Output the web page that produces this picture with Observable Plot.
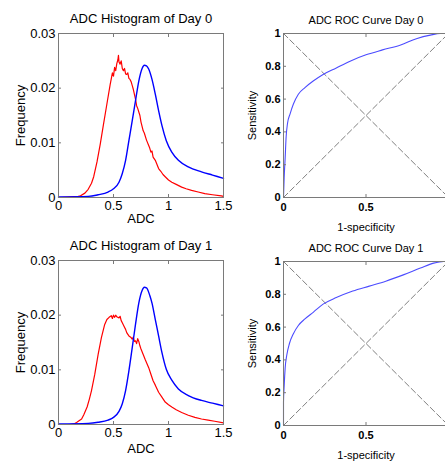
<!DOCTYPE html>
<html><head><meta charset="utf-8">
<script src="https://cdn.jsdelivr.net/npm/d3@7"></script>
<script src="https://cdn.jsdelivr.net/npm/@observablehq/plot@0.6"></script>
<style>
html,body{margin:0;padding:0;background:#fff;overflow:hidden;width:445px;height:461px;}
#wrap{position:relative;width:445px;height:461px;overflow:hidden;}
.panel{position:absolute;width:240px;}
.panel svg{max-width:none !important;display:block;}
</style></head><body><div id="wrap"></div>
<script>
// ---- text ----
const histTitles = ["ADC Histogram of Day 0", "ADC Histogram of Day 1"];
const rocTitles = ["ADC ROC Curve Day 0", "ADC ROC Curve Day 1"];
const histXLabel = "ADC";
const histYLabel = "Frequency";
const rocXLabel = "1-specificity";
const rocYLabel = "Sensitivity";

// ---- ticks ----
const histXTicks = [0, 0.5, 1, 1.5];
const histYTicks = [0, 0.01, 0.02, 0.03];
const rocXTicks = [0, 0.5, 1];
const rocXTickLabels = [0, 0.5];   // the label at 1 falls outside the picture
const rocYTicks = [0, 0.2, 0.4, 0.6, 0.8, 1];

// ---- histogram series [ADC, frequency] ----
const day0Red = [[0,0],[0.1,0.0001],[0.18,0.0002],[0.2,0.0003],[0.24,0.0008],[0.27,0.0015],[0.3,0.0026],[0.32,0.0038],[0.35,0.0065],[0.38,0.0098],[0.41,0.0135],[0.44,0.0171],[0.47,0.0207],[0.49,0.0228],[0.5,0.0222],[0.51,0.0238],[0.52,0.0232],[0.53,0.0245],[0.54,0.0252],[0.545,0.026],[0.55,0.0248],[0.56,0.0244],[0.57,0.025],[0.58,0.0236],[0.59,0.0232],[0.6,0.0236],[0.61,0.0226],[0.62,0.0225],[0.63,0.0228],[0.64,0.0218],[0.65,0.0216],[0.66,0.0212],[0.67,0.0205],[0.68,0.0198],[0.7,0.018],[0.71,0.0168],[0.72,0.0163],[0.74,0.015],[0.75,0.0138],[0.77,0.0122],[0.78,0.0118],[0.8,0.0105],[0.82,0.0095],[0.83,0.009],[0.84,0.0083],[0.85,0.0085],[0.86,0.0074],[0.88,0.0068],[0.91,0.0053],[0.93,0.0048],[0.95,0.0042],[0.97,0.0038],[1.0,0.0032],[1.03,0.0028],[1.07,0.0024],[1.12,0.0019],[1.16,0.0016],[1.21,0.0013],[1.27,0.001],[1.33,0.0007],[1.4,0.0005],[1.48,0.0003],[1.5,0.0002]];
const day0Blue = [[0,0.0001],[0.27,0.0002],[0.36,0.0005],[0.45,0.001],[0.5,0.0016],[0.55,0.0028],[0.58,0.0044],[0.61,0.0068],[0.64,0.0104],[0.67,0.014],[0.7,0.0177],[0.73,0.0213],[0.76,0.0236],[0.78,0.0242],[0.8,0.0241],[0.82,0.0235],[0.85,0.0216],[0.88,0.0189],[0.91,0.0159],[0.94,0.0132],[0.98,0.0104],[1.03,0.0083],[1.09,0.0068],[1.18,0.0056],[1.3,0.0047],[1.4,0.0041],[1.5,0.0035]];
const day1Red = [[0,0],[0.1,0],[0.14,0.0001],[0.16,0.0003],[0.18,0.0006],[0.21,0.001],[0.23,0.0018],[0.26,0.0032],[0.28,0.0046],[0.3,0.0062],[0.33,0.0092],[0.36,0.0128],[0.39,0.0159],[0.42,0.0183],[0.44,0.0192],[0.46,0.0196],[0.48,0.0199],[0.49,0.0194],[0.5,0.02],[0.51,0.0196],[0.52,0.02],[0.53,0.0197],[0.55,0.0195],[0.56,0.0198],[0.57,0.019],[0.58,0.0186],[0.6,0.0178],[0.61,0.0174],[0.62,0.0168],[0.64,0.0162],[0.66,0.0159],[0.67,0.0156],[0.68,0.016],[0.69,0.0152],[0.7,0.0153],[0.71,0.0148],[0.72,0.0157],[0.73,0.0152],[0.74,0.0144],[0.75,0.0138],[0.77,0.0128],[0.79,0.0118],[0.82,0.0104],[0.84,0.0092],[0.86,0.008],[0.88,0.0072],[0.91,0.0059],[0.94,0.005],[0.97,0.0041],[1.0,0.0036],[1.03,0.0032],[1.07,0.0027],[1.12,0.0022],[1.18,0.0017],[1.24,0.0013],[1.3,0.001],[1.36,0.0008],[1.42,0.0006],[1.5,0.0003]];
const day1Blue = [[0,0.0001],[0.27,0.0002],[0.36,0.0004],[0.45,0.0008],[0.5,0.0013],[0.55,0.0024],[0.58,0.0038],[0.61,0.0062],[0.64,0.0098],[0.67,0.014],[0.7,0.0183],[0.73,0.0222],[0.76,0.0245],[0.78,0.0251],[0.8,0.025],[0.81,0.0247],[0.83,0.0236],[0.85,0.0222],[0.88,0.0192],[0.91,0.0162],[0.94,0.0132],[0.98,0.0101],[1.03,0.0081],[1.09,0.0065],[1.18,0.0053],[1.3,0.0044],[1.4,0.0039],[1.5,0.0034]];

// ---- ROC series [1-specificity, sensitivity] ----
const roc0 = [[0,0],[0.002,0.06],[0.004,0.12],[0.01,0.24],[0.016,0.37],[0.024,0.45],[0.04,0.51],[0.06,0.57],[0.09,0.63],[0.13,0.67],[0.18,0.71],[0.24,0.75],[0.32,0.79],[0.40,0.83],[0.50,0.87],[0.60,0.90],[0.71,0.93],[0.81,0.97],[0.89,0.99],[0.95,1.0],[1,1]];
const roc1 = [[0,0],[0,0.14],[0.004,0.24],[0.01,0.35],[0.02,0.43],[0.036,0.50],[0.06,0.56],[0.09,0.61],[0.13,0.65],[0.18,0.69],[0.24,0.74],[0.32,0.78],[0.42,0.82],[0.52,0.85],[0.62,0.88],[0.73,0.92],[0.83,0.96],[0.91,0.99],[0.97,1.0],[1,1]];
const chanceLine = [[0,0],[1,1]];
const crossLine = [[0,1],[1,0]];

const FONT = "'Liberation Sans', Arial, Helvetica, sans-serif";
const BOX = "#7a7a7a";
const fmt = d => String(d);

function boxTicks(xt, yt, len) {
  return [
    Plot.axisX({anchor: "bottom", ticks: xt, tickSize: len, dy: -len, tickFormat: () => "", label: null, stroke: BOX}),
    Plot.axisX({anchor: "top", ticks: xt, tickSize: len, dy: len, tickFormat: () => "", label: null, stroke: BOX}),
    Plot.axisY({anchor: "left", ticks: yt, tickSize: len, dx: len, tickFormat: () => "", label: null, stroke: BOX}),
    Plot.axisY({anchor: "right", ticks: yt, tickSize: len, dx: -len, tickFormat: () => "", label: null, stroke: BOX})
  ];
}

function histPanel(title, red, blue, xlabDy) {
  return Plot.plot({
    width: 235, height: 230,
    marginLeft: 58, marginRight: 12, marginTop: 33, marginBottom: 33,
    x: {domain: [0, 1.5]},
    y: {domain: [0, 0.03]},
    style: {fontFamily: FONT, fontSize: "13px", color: "#000", background: "transparent", overflow: "visible"},
    marks: [
      Plot.line(red, {x: d => d[0], y: d => d[1], stroke: "#ff0000", strokeWidth: 1.2}),
      Plot.line(blue, {x: d => d[0], y: d => d[1], stroke: "#0000ff", strokeWidth: 1.4, curve: "monotone-x"}),
      Plot.frame({stroke: BOX}),
      ...boxTicks(histXTicks, histYTicks, 3),
      Plot.axisX({anchor: "bottom", ticks: histXTicks, tickSize: 0, tickPadding: 3, tickFormat: fmt, label: null}),
      Plot.axisY({anchor: "left", ticks: histYTicks, tickSize: 0, tickPadding: 3, tickFormat: fmt, label: null}),
      Plot.text([title], {frameAnchor: "top", dy: -15, text: d => d, textAnchor: "middle", lineAnchor: "middle", fontSize: 13}),
      Plot.text([histXLabel], {frameAnchor: "bottom", dy: xlabDy, text: d => d, textAnchor: "middle", lineAnchor: "middle", fontSize: 13}),
      Plot.text([histYLabel], {frameAnchor: "left", dx: -38, rotate: -90, text: d => d, textAnchor: "middle", lineAnchor: "middle", fontSize: 13})
    ]
  });
}

function rocPanel(title, roc) {
  return Plot.plot({
    width: 230, height: 230,
    marginLeft: 53, marginRight: 12, marginTop: 33, marginBottom: 33,
    x: {domain: [0, 1]},
    y: {domain: [0, 1]},
    style: {fontFamily: FONT, fontSize: "11px", color: "#000", background: "transparent", overflow: "visible"},
    marks: [
      Plot.line(chanceLine, {x: d => d[0], y: d => d[1], stroke: "#808080", strokeWidth: 1, strokeDasharray: "6,3"}),
      Plot.line(crossLine, {x: d => d[0], y: d => d[1], stroke: "#808080", strokeWidth: 1, strokeDasharray: "6,3"}),
      Plot.line(roc, {x: d => d[0], y: d => d[1], stroke: "#4c4cff", strokeWidth: 1.1, curve: "monotone-x"}),
      Plot.frame({stroke: BOX}),
      ...boxTicks(rocXTicks, rocYTicks, 3),
      Plot.axisX({anchor: "bottom", ticks: rocXTickLabels, tickSize: 0, tickPadding: 6, tickFormat: fmt, label: null, fontWeight: "bold"}),
      Plot.axisY({anchor: "left", ticks: rocYTicks, tickSize: 0, tickPadding: 3, tickFormat: fmt, label: null, fontWeight: "bold"}),
      Plot.text([title], {frameAnchor: "top", dy: -13, text: d => d, textAnchor: "middle", lineAnchor: "middle", fontSize: 11}),
      Plot.text([rocXLabel], {frameAnchor: "bottom", dy: 30, text: d => d, textAnchor: "middle", lineAnchor: "middle", fontSize: 11}),
      Plot.text([rocYLabel], {frameAnchor: "left", dx: -31, rotate: -90, text: d => d, textAnchor: "middle", lineAnchor: "middle", fontSize: 11})
    ]
  });
}

const wrap = document.getElementById("wrap");
function place(node, left, top) {
  const d = document.createElement("div");
  d.className = "panel";
  d.style.left = left + "px";
  d.style.top = top + "px";
  d.appendChild(node);
  wrap.appendChild(d);
}
place(histPanel(histTitles[0], day0Red, day0Blue, 21), 0, 0);
place(rocPanel(rocTitles[0], roc0), 230, 0);
place(histPanel(histTitles[1], day1Red, day1Blue, 24), 0, 227);
place(rocPanel(rocTitles[1], roc1), 230, 228);
</script></body></html>
